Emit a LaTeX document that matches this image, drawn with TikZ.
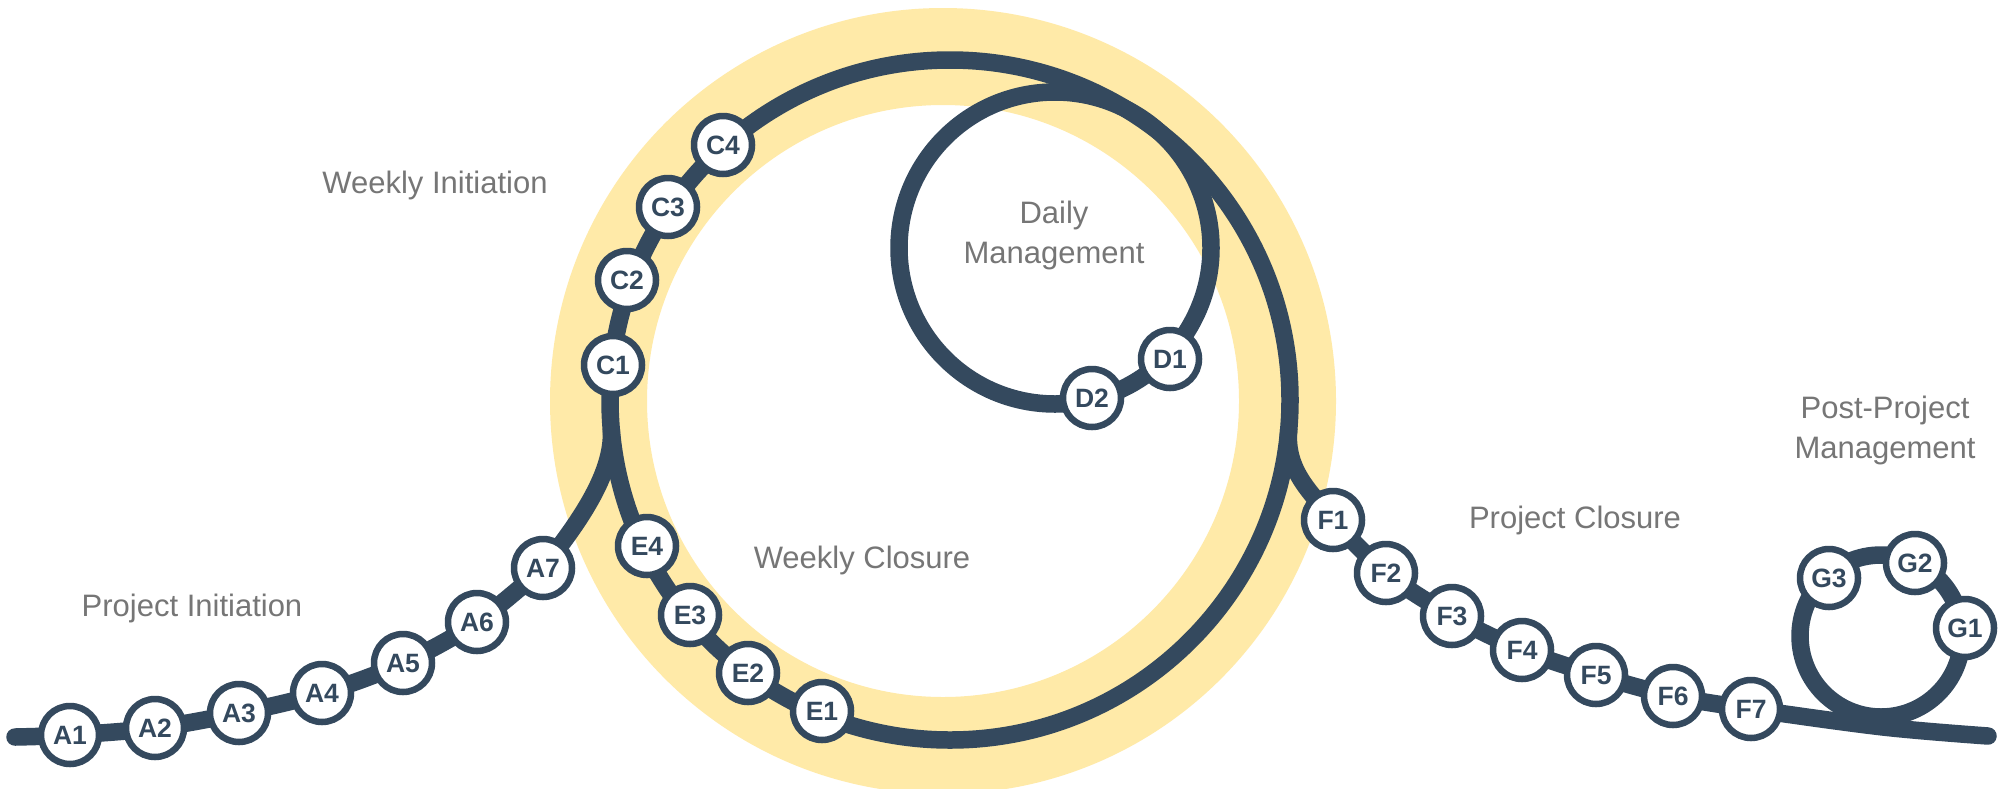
\documentclass[tikz,border=0pt]{standalone}
\usepackage{fontspec}
\setmainfont{Liberation Sans}
\definecolor{track}{RGB}{52,73,94}
\definecolor{ringc}{RGB}{255,234,168}
\definecolor{lbl}{RGB}{118,118,118}
\begin{document}
\begin{tikzpicture}[x=1pt,y=-1pt,
  stop/.style={circle,draw=track,fill=white,line width=6.5pt,minimum size=58pt,inner sep=0pt,text=track,font=\fontsize{26.5}{30}\selectfont\bfseries},
  trackline/.style={draw=track,line width=17.5pt,line cap=round,line join=round},
  phase/.style={text=lbl,font=\fontsize{31}{37}\selectfont,anchor=base,inner sep=0pt}]
\clip (0,0) rectangle (2012,788);
\fill[white] (0,0) rectangle (2012,788);
% coordinates
\coordinate (bigc) at (950,400);
\coordinate (dayc) at (1055,248);
\coordinate (postc) at (1881,636);
\coordinate (ringctr) at (943,401);
\coordinate (aS) at (15,737);
\coordinate (pA1) at (70,735);
\coordinate (pA2) at (155,728);
\coordinate (pA3) at (239,713);
\coordinate (pA4) at (322,693);
\coordinate (pA5) at (403,663);
\coordinate (pA6) at (477,622);
\coordinate (pA7) at (543,568);
\coordinate (aj) at (611.3,430);
\coordinate (pC1) at (613,365);
\coordinate (pC2) at (627,280);
\coordinate (pC3) at (668,207);
\coordinate (pC4) at (723,145);
\coordinate (pD1) at (1170,359);
\coordinate (pD2) at (1092,398);
\coordinate (pE1) at (822,711);
\coordinate (pE2) at (748,673);
\coordinate (pE3) at (690,615);
\coordinate (pE4) at (647,546);
\coordinate (fj) at (1288.7,430);
\coordinate (pF1) at (1333,520);
\coordinate (pF2) at (1386,573);
\coordinate (pF3) at (1452,616);
\coordinate (pF4) at (1522,650);
\coordinate (pF5) at (1596,675);
\coordinate (pF6) at (1673,696);
\coordinate (pF7) at (1751,709);
\coordinate (fe1) at (1883,727);
\coordinate (fE) at (1988,736);
\coordinate (pG1) at (1965,628);
\coordinate (pG2) at (1915,563);
\coordinate (pG3) at (1829,578);
% yellow ring
\draw[ringc,line width=97pt] (ringctr) circle[radius=344.5];
% tracks
\draw[trackline] (bigc) circle[radius=340];
\draw[trackline] (dayc) circle[radius=156];
\draw[trackline] (postc) circle[radius=81];
\draw[trackline] plot[smooth,tension=0.55] coordinates {(aS) (pA1) (pA2) (pA3) (pA4) (pA5) (pA6) (pA7)};
\draw[trackline] (pA7) .. controls (570,533) and (614,478) .. (aj);
\draw[trackline] (fj) .. controls (1285,472) and (1313,494) .. (pF1);
\draw[trackline] plot[smooth,tension=0.55] coordinates {(pF1) (pF2) (pF3) (pF4) (pF5) (pF6) (pF7) (fe1) (fE)};
% stops
\foreach \n in {A1,A2,A3,A4,A5,A6,A7,C1,C2,C3,C4,D1,D2,E1,E2,E3,E4,F1,F2,F3,F4,F5,F6,F7,G1,G2,G3}
  \node[stop] (\n) at (p\n) {\n};
% phase labels
\node[phase] (tWI) at (435,193) {Weekly Initiation};
\node[phase] (tPI) at (192,616) {Project Initiation};
\node[phase] (tWC) at (862,568) {Weekly Closure};
\node[phase] (tDM1) at (1054,223) {Daily};
\node[phase] (tDM2) at (1054,263) {Management};
\node[phase] (tPC) at (1575,528) {Project Closure};
\node[phase] (tPP1) at (1885,418) {Post-Project};
\node[phase] (tPP2) at (1885,458) {Management};
\end{tikzpicture}
\end{document}
